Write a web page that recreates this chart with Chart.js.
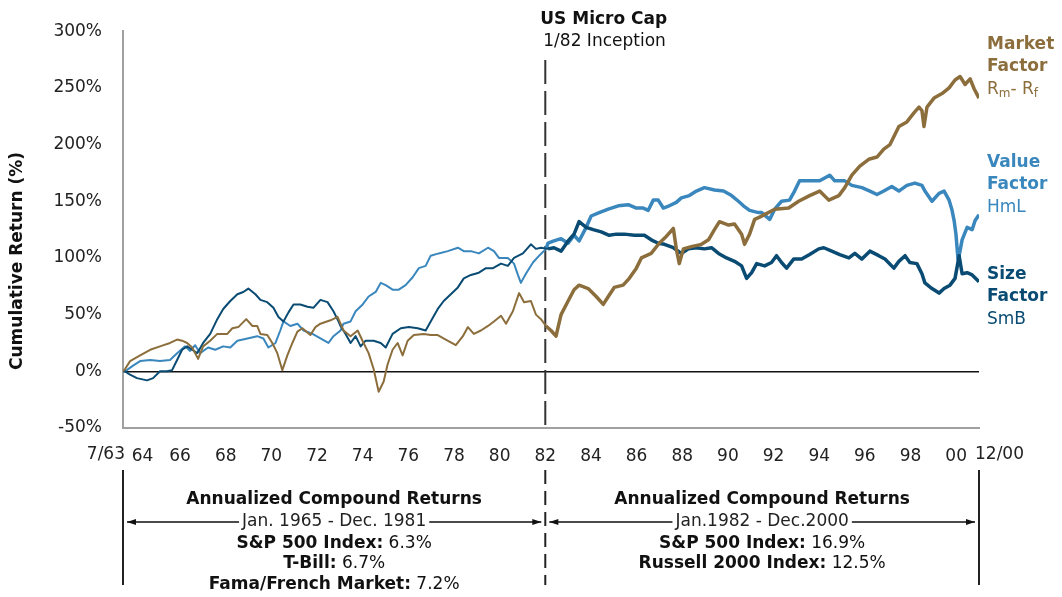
<!DOCTYPE html>
<html>
<head>
<meta charset="utf-8">
<title>Fama/French Factors - Cumulative Return</title>
<script src="https://cdn.jsdelivr.net/npm/chart.js@4.4.1/dist/chart.umd.min.js"></script>
<style>
  html, body { margin: 0; padding: 0; background: #fff; }
  #wrap { width: 1062px; height: 597px; }
</style>
</head>
<body>
<div id="wrap"><canvas id="factorChart" width="1062" height="597"></canvas></div>
<script>
// ================================
// Data (cumulative return in %)
// dates are decimal years
// ================================
const marketDates = [
  1963.50, 1963.59, 1963.81, 1964.25, 1964.69, 1965.12, 1965.56, 1965.87, 1966.09, 1966.31,
  1966.53, 1966.79, 1967.01, 1967.32, 1967.63, 1968.07, 1968.29, 1968.55, 1968.90, 1969.17,
  1969.38, 1969.52, 1969.82, 1970.04, 1970.26, 1970.48, 1970.70, 1970.92, 1971.14, 1971.36,
  1971.71, 1971.93, 1972.15, 1972.59, 1972.90, 1973.16, 1973.47, 1973.78, 1974.04, 1974.26,
  1974.48, 1974.70, 1974.92, 1975.09, 1975.31, 1975.53, 1975.75, 1975.97, 1976.24, 1976.68,
  1976.98, 1977.29, 1977.64, 1978.08, 1978.39, 1978.61, 1978.87, 1979.18, 1979.49, 1979.75,
  1980.06, 1980.28, 1980.58, 1980.85, 1981.07, 1981.37, 1981.59, 1981.81, 1982.03, 1982.25,
  1982.47, 1982.69, 1983.00, 1983.26, 1983.48, 1983.88, 1984.23, 1984.54, 1984.76, 1985.02,
  1985.41, 1985.68, 1985.99, 1986.21, 1986.64, 1986.99, 1987.30, 1987.61, 1987.74, 1987.87,
  1988.05, 1988.40, 1988.84, 1989.15, 1989.41, 1989.63, 1990.03, 1990.29, 1990.60, 1990.73,
  1990.95, 1991.17, 1991.39, 1992.05, 1992.66, 1993.10, 1993.58, 1994.02, 1994.42, 1994.86,
  1995.12, 1995.43, 1995.78, 1996.17, 1996.53, 1996.83, 1997.10, 1997.49, 1997.84, 1998.15,
  1998.37, 1998.50, 1998.59, 1998.72, 1999.03, 1999.38, 1999.69, 1999.95, 2000.17, 2000.39,
  2000.61, 2000.79, 2001.00
];
const marketReturns = [
  0, 2, 9, 14, 19, 22, 25, 28, 27, 25,
  21, 11, 22, 27, 33, 33, 38, 39, 46, 40,
  40, 33, 32, 25, 16, 1, 14, 25, 35, 38,
  32, 39, 42, 45, 48, 36, 31, 36, 25, 16,
  2, -18, -9, 6, 19, 25, 14, 27, 32, 33,
  32, 32, 28, 23, 31, 39, 33, 36, 40, 44,
  49, 42, 53, 69, 61, 62, 50, 46, 40, 36,
  31, 50, 62, 72, 76, 73, 66, 59, 66, 74,
  76, 82, 91, 100, 104, 113, 119, 126, 108, 95,
  108, 110, 112, 116, 125, 132, 129, 130, 121, 112,
  121, 134, 136, 143, 144, 150, 155, 159, 151, 155,
  162, 173, 181, 187, 189, 196, 200, 216, 220, 228,
  233, 230, 216, 233, 241, 245, 250, 257, 260, 253,
  258, 249, 241
];

const valueDates = [
  1963.50, 1963.59, 1963.94, 1964.25, 1964.69, 1965.12, 1965.56, 1965.87, 1966.22, 1966.44,
  1966.66, 1966.88, 1967.23, 1967.54, 1967.89, 1968.20, 1968.51, 1968.95, 1969.38, 1969.65,
  1969.87, 1970.18, 1970.39, 1970.53, 1970.83, 1971.14, 1971.41, 1971.80, 1972.15, 1972.50,
  1972.72, 1973.03, 1973.16, 1973.47, 1973.69, 1974.00, 1974.26, 1974.57, 1974.79, 1975.01,
  1975.31, 1975.58, 1975.88, 1976.19, 1976.46, 1976.76, 1976.98, 1977.33, 1977.73, 1978.17,
  1978.43, 1978.74, 1979.09, 1979.49, 1979.75, 1979.97, 1980.36, 1980.63, 1980.80, 1980.93,
  1981.15, 1981.46, 1981.73, 1982.03, 1982.12, 1982.38, 1982.69, 1983.00, 1983.26, 1983.48,
  1983.79, 1984.01, 1984.36, 1984.76, 1985.20, 1985.63, 1985.99, 1986.29, 1986.51, 1986.73,
  1986.95, 1987.17, 1987.43, 1987.74, 1987.96, 1988.31, 1988.62, 1988.97, 1989.41, 1989.81,
  1990.16, 1990.46, 1990.68, 1990.95, 1991.34, 1991.48, 1991.83, 1992.05, 1992.35, 1992.70,
  1992.92, 1993.14, 1993.58, 1994.02, 1994.46, 1994.68, 1995.12, 1995.43, 1995.87, 1996.22,
  1996.53, 1996.83, 1997.18, 1997.49, 1997.84, 1998.19, 1998.50, 1998.63, 1998.94, 1999.25,
  1999.47, 1999.69, 1999.82, 1999.91, 1999.99, 2000.08, 2000.13, 2000.26, 2000.48, 2000.70,
  2000.83, 2001.00
];
const valueReturns = [
  0, 0, 5, 9, 10, 9, 10, 16, 22, 18,
  23, 16, 21, 19, 22, 21, 27, 29, 31, 29,
  21, 25, 36, 44, 40, 42, 36, 33, 29, 25,
  31, 36, 42, 44, 53, 59, 66, 70, 78, 76,
  72, 72, 76, 83, 91, 93, 102, 104, 106, 109,
  106, 106, 104, 109, 106, 100, 100, 95, 85, 78,
  86, 96, 102, 108, 113, 115, 117, 113, 120, 115,
  127, 137, 140, 143, 146, 147, 144, 144, 142, 151,
  151, 144, 146, 149, 153, 155, 159, 162, 160, 159,
  155, 150, 146, 142, 140, 140, 134, 143, 150, 151,
  159, 168, 168, 168, 173, 168, 168, 164, 162, 159,
  156, 159, 163, 159, 164, 166, 164, 159, 150, 157,
  159, 151, 142, 133, 121, 99, 102, 116, 127, 125,
  133, 138
];

const sizeDates = [
  1963.50, 1963.59, 1963.81, 1964.11, 1964.55, 1964.82, 1965.12, 1965.43, 1965.65, 1965.87,
  1966.09, 1966.31, 1966.53, 1966.75, 1967.01, 1967.32, 1967.63, 1967.89, 1968.20, 1968.51,
  1968.77, 1968.99, 1969.30, 1969.52, 1969.82, 1970.09, 1970.31, 1970.53, 1970.75, 1970.97,
  1971.27, 1971.58, 1971.84, 1972.15, 1972.46, 1972.72, 1972.94, 1973.03, 1973.25, 1973.47,
  1973.69, 1973.91, 1974.13, 1974.48, 1974.79, 1975.01, 1975.31, 1975.67, 1976.02, 1976.41,
  1976.76, 1976.98, 1977.29, 1977.55, 1977.86, 1978.17, 1978.43, 1978.74, 1979.09, 1979.40,
  1979.71, 1980.06, 1980.36, 1980.63, 1981.02, 1981.37, 1981.59, 1981.81, 1982.12, 1982.38,
  1982.69, 1983.00, 1983.26, 1983.48, 1983.79, 1984.10, 1984.45, 1984.80, 1985.11, 1985.46,
  1985.90, 1986.34, 1986.64, 1986.95, 1987.22, 1987.61, 1987.96, 1988.27, 1988.62, 1988.97,
  1989.28, 1989.59, 1989.94, 1990.29, 1990.60, 1990.82, 1991.04, 1991.26, 1991.61, 1991.91,
  1992.13, 1992.35, 1992.57, 1992.88, 1993.23, 1993.58, 1993.98, 1994.20, 1994.55, 1994.90,
  1995.30, 1995.56, 1995.87, 1996.22, 1996.61, 1996.88, 1997.27, 1997.49, 1997.76, 1997.97,
  1998.28, 1998.50, 1998.63, 1998.94, 1999.25, 1999.47, 1999.73, 1999.95, 2000.13, 2000.26,
  2000.48, 2000.70, 2001.00
];
const sizeReturns = [
  0, 0, -3, -6, -8, -6, 0, 0, 1, 10,
  19, 22, 19, 16, 25, 33, 46, 55, 62, 68,
  70, 73, 68, 63, 61, 56, 48, 44, 52, 59,
  59, 57, 56, 63, 61, 53, 44, 40, 33, 25,
  31, 22, 27, 27, 25, 21, 33, 38, 39, 38,
  36, 44, 55, 62, 68, 74, 82, 85, 87, 91,
  91, 95, 93, 100, 104, 112, 108, 109, 108, 109,
  106, 115, 121, 132, 127, 125, 123, 120, 121, 121,
  120, 120, 116, 113, 112, 109, 104, 108, 109, 108,
  109, 104, 100, 97, 93, 82, 87, 95, 93, 96,
  102, 96, 91, 99, 99, 103, 108, 109, 106, 103,
  100, 104, 99, 106, 102, 99, 91, 97, 102, 96,
  95, 86, 78, 73, 69, 73, 76, 82, 102, 86,
  87, 85, 79
];

// axis
const yTickValues = [-50, 0, 50, 100, 150, 200, 250, 300];
const xTickYears = [1964, 1966, 1968, 1970, 1972, 1974, 1976, 1978, 1980, 1982, 1984, 1986, 1988, 1990, 1992, 1994, 1996, 1998, 2000];
// '64' is nudged right (leading spaces) to clear the '7/63' start label, as in the original
const xTickLabels = ['   64', '66', '68', '70', '72', '74', '76', '78', '80', '82', '84', '86', '88', '90', '92', '94', '96', '98', '00'];
const startYear = 1963.5;   // 7/63
const endYear = 2001.0;     // 12/00
const inceptionYear = 1982.0;

// ================================
// Styles
// ================================
const FONT = '"DejaVu Sans", Verdana, sans-serif';
const COLOR_MARKET = '#8c6e3c';
const COLOR_VALUE = '#3a87be';
const COLOR_SIZE = '#0a4b73';

Chart.defaults.font.family = FONT;
Chart.defaults.font.size = 17;
Chart.defaults.color = '#222';

function toPoints(dates, values) {
  return dates.map((d, i) => ({ x: d, y: values[i] }));
}

// thin before the micro cap inception, thicker after
const segWidth = ctx => (ctx.p0.parsed.x >= inceptionYear ? 3.5 : 2);

function lineSet(label, dates, values, color) {
  return {
    label,
    data: toPoints(dates, values),
    borderColor: color,
    borderWidth: 2,
    pointRadius: 0,
    tension: 0,
    borderJoinStyle: 'round',
    segment: { borderWidth: segWidth }
  };
}

// text helper: draws pieces of [text, bold] centred on cx
function mixedLine(ctx, parts, cx, cy, size) {
  let total = 0;
  parts.forEach(p => {
    ctx.font = (p[1] ? 'bold ' : '') + size + 'px ' + FONT;
    total += ctx.measureText(p[0]).width;
  });
  let x = cx - total / 2;
  ctx.textAlign = 'left';
  parts.forEach(p => {
    ctx.font = (p[1] ? 'bold ' : '') + size + 'px ' + FONT;
    ctx.fillText(p[0], x, cy);
    x += ctx.measureText(p[0]).width;
  });
}

function arrowHead(ctx, tipX, y, dir) {
  ctx.beginPath();
  ctx.moveTo(tipX, y);
  ctx.lineTo(tipX + dir * 9, y - 3);
  ctx.lineTo(tipX + dir * 9, y + 3);
  ctx.closePath();
  ctx.fill();
}

// arrow line with a label in a gap in the middle
function rangeArrow(ctx, x1, x2, y, label) {
  ctx.font = '17px ' + FONT;
  const w = ctx.measureText(label).width;
  const mid = (x1 + x2) / 2;
  ctx.strokeStyle = '#111';
  ctx.fillStyle = '#111';
  ctx.lineWidth = 1.5;
  ctx.setLineDash([]);
  ctx.beginPath();
  ctx.moveTo(x1, y); ctx.lineTo(mid - w / 2 - 3, y);
  ctx.moveTo(mid + w / 2 + 3, y); ctx.lineTo(x2, y);
  ctx.stroke();
  arrowHead(ctx, x1, y, 1);
  arrowHead(ctx, x2, y, -1);
  ctx.fillStyle = '#222';
  ctx.textAlign = 'center';
  ctx.fillText(label, mid, y);
}

function factorLabel(ctx, x, y, name, sub, color) {
  ctx.fillStyle = color;
  ctx.textAlign = 'left';
  ctx.font = 'bold 17px ' + FONT;
  ctx.fillText(name, x, y);
  ctx.fillText('Factor', x, y + 22);
  ctx.font = '17px ' + FONT;
  let cx = x;
  sub.forEach(p => {
    if (p[1]) {
      ctx.font = '12px ' + FONT;
      ctx.fillText(p[0], cx, y + 49);
    } else {
      ctx.font = '17px ' + FONT;
      ctx.fillText(p[0], cx, y + 45);
    }
    cx += ctx.measureText(p[0]).width;
  });
}

// ================================
// Annotations plugin
// ================================
const annotations = {
  id: 'annotations',
  beforeDatasetsDraw(chart) {
    const { ctx, scales: { x, y } } = chart;
    const xs = x.getPixelForValue(inceptionYear);
    ctx.save();
    ctx.strokeStyle = '#333';
    ctx.lineWidth = 2;
    ctx.setLineDash([24, 7]);
    ctx.beginPath();
    ctx.moveTo(xs, 60);
    ctx.lineTo(xs, y.bottom);
    ctx.stroke();
    ctx.restore();
  },
  afterDraw(chart) {
    const { ctx, scales: { x, y } } = chart;
    const x0 = x.getPixelForValue(startYear);
    const xs = x.getPixelForValue(inceptionYear);
    const x1 = x.getPixelForValue(endYear);
    ctx.save();
    ctx.textBaseline = 'middle';

    // axis end labels
    ctx.fillStyle = '#222';
    ctx.font = '17px ' + FONT;
    ctx.textAlign = 'right';
    ctx.fillText('7/63', x0 + 2, 455);
    ctx.textAlign = 'left';
    ctx.fillText('12/00', x1 - 4, 455);

    // y title
    ctx.save();
    ctx.translate(18, 261);
    ctx.rotate(-Math.PI / 2);
    ctx.textAlign = 'center';
    ctx.font = 'bold 17px ' + FONT;
    ctx.fillStyle = '#111';
    ctx.fillText('Cumulative Return (%)', 0, 0);
    ctx.restore();

    // inception note
    ctx.fillStyle = '#111';
    ctx.textAlign = 'left';
    ctx.font = 'bold 17px ' + FONT;
    ctx.fillText('US Micro Cap', xs - 5, 20);
    ctx.font = '17px ' + FONT;
    ctx.fillText('1/82 Inception', xs - 2, 42);

    // factor labels on the right
    factorLabel(ctx, 987, 45, 'Market', [['R', false], ['m', true], ['- R', false], ['f', true]], COLOR_MARKET);
    factorLabel(ctx, 987, 163, 'Value', [['HmL', false]], COLOR_VALUE);
    factorLabel(ctx, 987, 275, 'Size', [['SmB', false]], COLOR_SIZE);

    // bottom brackets
    ctx.strokeStyle = '#222';
    ctx.lineWidth = 2;
    ctx.setLineDash([]);
    ctx.beginPath();
    ctx.moveTo(x0, 470); ctx.lineTo(x0, 585);
    ctx.moveTo(x1, 470); ctx.lineTo(x1, 585);
    ctx.stroke();
    ctx.setLineDash([14, 7]);
    ctx.beginPath();
    ctx.moveTo(xs, 470); ctx.lineTo(xs, 585);
    ctx.stroke();

    rangeArrow(ctx, x0 + 4, xs - 4, 522, 'Jan. 1965 - Dec. 1981');
    rangeArrow(ctx, xs + 4, x1 - 4, 522, 'Jan.1982 - Dec.2000');

    ctx.fillStyle = '#111';
    const lc = (x0 + xs) / 2, rc = (xs + x1) / 2;
    mixedLine(ctx, [['Annualized Compound Returns', true]], lc, 500, 17);
    mixedLine(ctx, [['S&P 500 Index:', true], [' 6.3%', false]], lc, 544, 17);
    mixedLine(ctx, [['T-Bill:', true], [' 6.7%', false]], lc, 564, 17);
    mixedLine(ctx, [['Fama/French Market:', true], [' 7.2%', false]], lc, 585, 17);
    mixedLine(ctx, [['Annualized Compound Returns', true]], rc, 500, 17);
    mixedLine(ctx, [['S&P 500 Index:', true], [' 16.9%', false]], rc, 544, 17);
    mixedLine(ctx, [['Russell 2000 Index:', true], [' 12.5%', false]], rc, 564, 17);

    ctx.restore();
  }
};

// ================================
// Chart
// ================================
const canvas = document.getElementById('factorChart');
const chart = new Chart(canvas.getContext('2d'), {
  type: 'line',
  data: {
    datasets: [
      lineSet('Market Factor', marketDates, marketReturns, COLOR_MARKET),
      lineSet('Size Factor', sizeDates, sizeReturns, COLOR_SIZE),
      lineSet('Value Factor', valueDates, valueReturns, COLOR_VALUE)
    ]
  },
  options: {
    responsive: false,
    devicePixelRatio: 1,
    animation: false,
    layout: { padding: { top: 18, right: 83, bottom: 0, left: 0 } },
    plugins: { legend: { display: false }, tooltip: { enabled: false } },
    scales: {
      x: {
        type: 'linear',
        min: startYear,
        max: endYear,
        afterBuildTicks: s => { s.ticks = xTickYears.map(v => ({ value: v })); },
        afterFit: s => { s.height = 169; },
        grid: { display: false, drawTicks: false },
        border: { display: true, color: '#a0a0a0', width: 2 },
        ticks: {
          autoSkip: false,
          maxRotation: 0,
          padding: 18,
          color: '#222',
          callback: v => xTickLabels[xTickYears.indexOf(v)]
        }
      },
      y: {
        min: -50,
        max: 300,
        afterBuildTicks: s => { s.ticks = yTickValues.map(v => ({ value: v })); },
        afterFit: s => { s.width = 123; },
        grid: {
          drawTicks: false,
          color: c => (c.tick && c.tick.value === 0 ? '#111' : 'rgba(0,0,0,0)'),
          lineWidth: 1.5
        },
        border: { display: true, color: '#a0a0a0', width: 2 },
        ticks: {
          padding: 21,
          color: '#222',
          callback: v => v + '%'
        }
      }
    }
  },
  plugins: [annotations]
});
</script>
</body>
</html>
